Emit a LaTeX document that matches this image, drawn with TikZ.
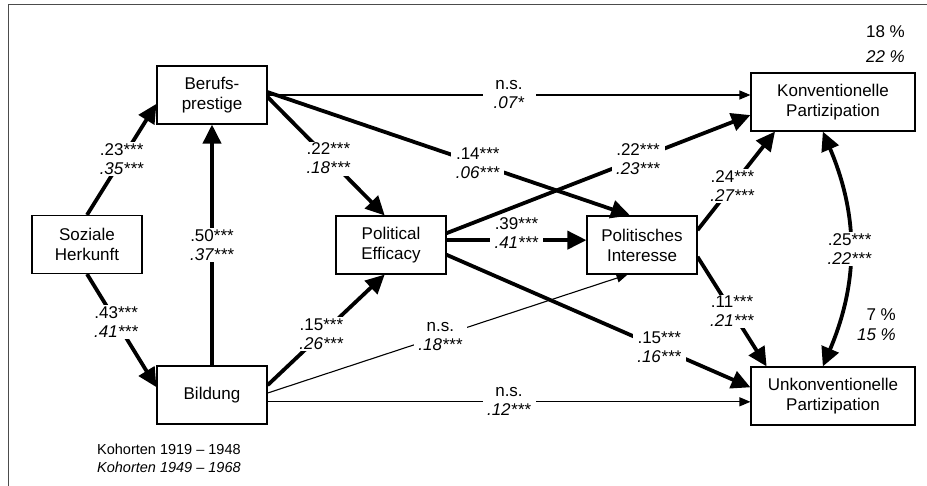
\documentclass[tikz,border=0pt]{standalone}
\usepackage{fontspec}
\setmainfont{Liberation Sans}
\usetikzlibrary{arrows.meta}

\begin{document}
\begin{tikzpicture}[x=1pt, y=-1pt,
  every node/.style={font=\fontsize{17}{20}\selectfont},
  var/.style={draw, line width=1.1pt, minimum width=110pt, minimum height=58pt, align=center, inner sep=2pt},
  wide/.style={var, minimum width=164pt},
  lab/.style={fill=white, inner xsep=0pt, inner ysep=1.5pt, minimum width=53pt, align=center, font=\fontsize{17}{19}\selectfont},
  strong/.style={line width=3.8pt, -{Triangle[length=19pt,width=18pt]}},
  weak/.style={line width=1.1pt, -{Triangle[length=11pt,width=9pt]}},
  both/.style={line width=3.8pt, {Triangle[length=19pt,width=18pt]}-{Triangle[length=19pt,width=18pt]}},
  note/.style={align=right, anchor=east, inner sep=0pt}
]
  \useasboundingbox (0,0) rectangle (927,486);
  % frame
  \draw[black!70, line width=1pt] (927,5) -- (8,5) -- (8,486);

  % variables
  \node[var] (herk) at (87,244.5) {Soziale\\Herkunft};
  \node[var] (beruf) at (212,95) {Berufs-\\prestige};
  \node[var] (bild) at (212,395) {Bildung};
  \node[var] (eff) at (391,245) {Political\\Efficacy};
  \node[var] (inter) at (642,245) {Politisches\\Interesse};
  \node[wide] (konv) at (833,102) {Konventionelle\\Partizipation};
  \node[wide] (unkonv) at (833,396) {Unkonventionelle\\Partizipation};

  % explained variance
  \node[note] (rkonv) at (905,44.5) {18 \%\\[5pt]\textit{22 \%}};
  \node[note] (runkonv) at (896,324.5) {7 \%\\\textit{15 \%}};

  % paths from the background
  \draw[strong] (herk.north) -- (beruf.189) node[lab, pos=0.5] {.23***\\\textit{.35***}};
  \draw[strong] (herk.south) -- (bild.172) node[lab, pos=0.42] {.43***\\\textit{.41***}};
  \draw[strong] (bild.north) -- (beruf.south) node[lab, pos=0.5] {.50***\\\textit{.37***}};

  % thin paths
  \draw[weak] (beruf.east) -- (beruf.east -| konv.west) node[lab, pos=0.5] {n.s.\\\textit{.07*}};
  \draw[weak] (bild.353) -- (bild.353 -| unkonv.west) node[lab, pos=0.5] {n.s.\\\textit{.12***}};
  \draw[weak] (bild.2) -- (inter.244) node[lab, pos=0.48] {n.s.\\\textit{.18***}};

  % paths into efficacy and interest
  \draw[strong] (beruf.-2) -- (eff.102) node[lab, pos=0.52] {.22***\\\textit{.18***}};
  \draw[strong] (beruf.3) -- (inter.112) node[lab, pos=0.58] {.14***\\\textit{.06***}};
  \draw[strong] (bild.10) -- (eff.258) node[lab, pos=0.46] {.15***\\\textit{.26***}};
  \draw[strong] (eff.5) -- (eff.5 -| inter.west) node[lab, pos=0.5, yshift=7pt] {.39***\\\textit{.41***}};

  % paths into participation
  \draw[strong] (eff.12) -- (konv.189) node[lab, pos=0.63] {.22***\\\textit{.23***}};
  \draw[strong] (eff.-10) -- (unkonv.174) node[lab, pos=0.7] {.15***\\\textit{.16***}};
  \draw[strong] (inter.15) -- (konv.207) node[lab, pos=0.45] {.24***\\\textit{.27***}};
  \draw[strong] (inter.-12) -- (unkonv.156) node[lab, pos=0.5] {.11***\\\textit{.21***}};
  \draw[both] (konv.251) to[bend left=23] node[lab] {.25***\\\textit{.22***}} (unkonv.109);

  % legend
  \node[anchor=west, align=left, inner sep=0pt, font=\fontsize{14.5}{18}\selectfont] (kohorten) at (97,458)
    {Kohorten 1919 -- 1948\\\textit{Kohorten 1949 -- 1968}};
\end{tikzpicture}
\end{document}
